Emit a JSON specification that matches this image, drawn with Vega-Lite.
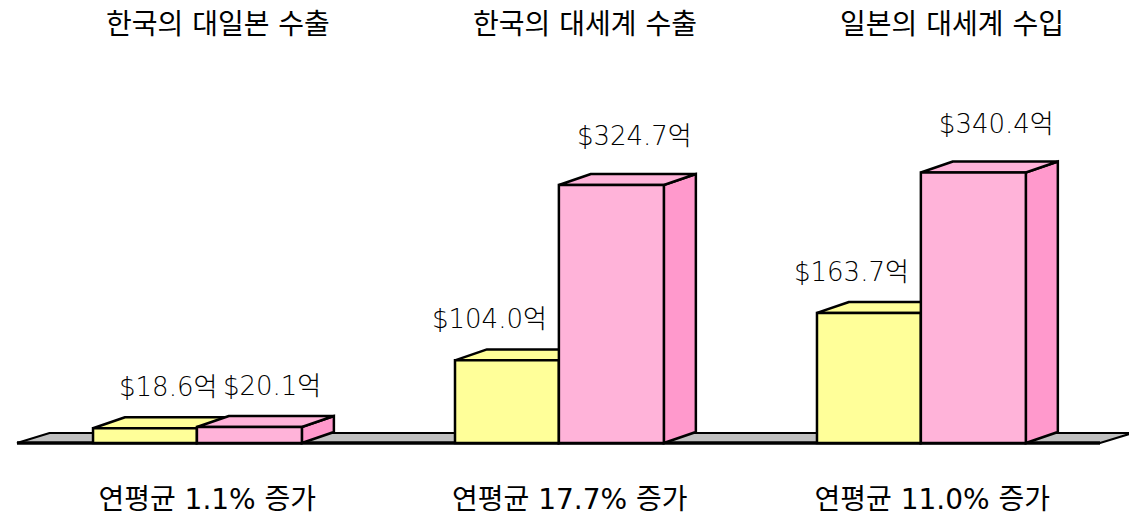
{
  "$schema": "https://vega.github.io/schema/vega-lite/v6.json",
  "width": 1129,
  "height": 425,
  "autosize": {"type": "none"},
  "padding": {"left": 0, "right": 0, "top": 50, "bottom": 45},
  "background": "white",
  "config": {"view": {"stroke": null}},
  "datasets": {
    "bars": [
      {"구분": "한국의 대일본 수출", "g": 0, "series": "시작", "value": 18.6},
      {"구분": "한국의 대일본 수출", "g": 0, "series": "종료", "value": 20.1},
      {"구분": "한국의 대세계 수출", "g": 1, "series": "시작", "value": 104.0},
      {"구분": "한국의 대세계 수출", "g": 1, "series": "종료", "value": 324.7},
      {"구분": "일본의 대세계 수입", "g": 2, "series": "시작", "value": 163.7},
      {"구분": "일본의 대세계 수입", "g": 2, "series": "종료", "value": 340.4}
    ],
    "groups": [
      {"title": "한국의 대일본 수출", "growth": "연평균 1.1% 증가"},
      {"title": "한국의 대세계 수출", "growth": "연평균 17.7% 증가"},
      {"title": "일본의 대세계 수입", "growth": "연평균 11.0% 증가"}
    ],
    "floor": [{"edge": "front"}, {"edge": "back"}]
  },
  "resolve": {"scale": {"x": "independent", "color": "independent"}, "axis": {"x": "independent"}},
  "layer": [
    {
      "data": {"name": "floor"},
      "transform": [
        {"calculate": "datum.edge == 'front' ? 0 : 12.6", "as": "fy"},
        {"calculate": "datum.edge == 'front' ? 0 : 0.09", "as": "fx"},
        {"calculate": "datum.edge == 'front' ? 2.992 : 3.082", "as": "fx2"}
      ],
      "mark": {"type": "area", "orient": "horizontal", "fill": "#c0c0c0", "stroke": "black", "strokeWidth": 2},
      "encoding": {
        "y": {"field": "fy", "type": "quantitative", "scale": {"domain": [-40.3, 494.6], "nice": false, "zero": false}, "axis": null},
        "x": {"field": "fx", "type": "quantitative", "stack": null, "scale": {"domain": [-0.047, 3.072], "nice": false, "zero": false}, "axis": null},
        "x2": {"field": "fx2"}
      }
    },
    {
      "data": {"name": "floor"},
      "transform": [
        {"filter": "datum.edge == 'front'"},
        {"calculate": "0", "as": "fy"},
        {"calculate": "0", "as": "fx"},
        {"calculate": "2.992", "as": "fx2"}
      ],
      "mark": {"type": "rule", "stroke": "black", "strokeWidth": 3.5},
      "encoding": {
        "y": {"field": "fy", "type": "quantitative", "scale": {"domain": [-40.3, 494.6], "nice": false, "zero": false}, "axis": null},
        "x": {"field": "fx", "type": "quantitative", "scale": {"domain": [-0.047, 3.072], "nice": false, "zero": false}, "axis": null},
        "x2": {"field": "fx2"}
      }
    },
    {
      "data": {"name": "bars"},
      "transform": [
        {"calculate": "datum.g + (datum.series == '시작' ? 0.21 : 0.497)", "as": "x0"},
        {"calculate": "datum.g + (datum.series == '시작' ? 0.497 : 0.787)", "as": "x1"},
        {"calculate": "[0, 1]", "as": "k"},
        {"flatten": ["k"]},
        {"calculate": "datum.x1 + datum.k * 0.0884", "as": "sx"},
        {"calculate": "datum.k * 13.8", "as": "sy"},
        {"calculate": "datum.value + datum.k * 13.8", "as": "sy2"}
      ],
      "mark": {"type": "area", "orient": "vertical", "stroke": "black", "strokeWidth": 2.5},
      "encoding": {
        "x": {"field": "sx", "type": "quantitative", "scale": {"domain": [-0.047, 3.072], "nice": false, "zero": false}, "axis": null},
        "y": {"field": "sy", "type": "quantitative", "stack": null, "scale": {"domain": [-40.3, 494.6], "nice": false, "zero": false}, "axis": null},
        "y2": {"field": "sy2"},
        "color": {"field": "series", "type": "nominal", "scale": {"domain": ["시작", "종료"], "range": ["#e8e880", "#ff99cc"]}, "legend": null},
        "detail": {"field": "g", "type": "nominal"}
      }
    },
    {
      "data": {"name": "bars"},
      "transform": [
        {"calculate": "datum.g + (datum.series == '시작' ? 0.21 : 0.497)", "as": "x0"},
        {"calculate": "datum.g + (datum.series == '시작' ? 0.497 : 0.787)", "as": "x1"},
        {"calculate": "[0, 1]", "as": "k"},
        {"flatten": ["k"]},
        {"calculate": "datum.x0 + datum.k * 0.0884", "as": "tx0"},
        {"calculate": "datum.x1 + datum.k * 0.0884", "as": "tx1"},
        {"calculate": "datum.value + datum.k * 13.8", "as": "ty"}
      ],
      "mark": {"type": "area", "orient": "horizontal", "stroke": "black", "strokeWidth": 2.5},
      "encoding": {
        "y": {"field": "ty", "type": "quantitative", "scale": {"domain": [-40.3, 494.6], "nice": false, "zero": false}, "axis": null},
        "x": {"field": "tx0", "type": "quantitative", "stack": null, "scale": {"domain": [-0.047, 3.072], "nice": false, "zero": false}, "axis": null},
        "x2": {"field": "tx1"},
        "color": {"field": "series", "type": "nominal", "scale": {"domain": ["시작", "종료"], "range": ["#ffff99", "#ffb3d9"]}, "legend": null},
        "detail": {"field": "g", "type": "nominal"}
      }
    },
    {
      "data": {"name": "bars"},
      "transform": [
        {"calculate": "datum.g + (datum.series == '시작' ? 0.21 : 0.497)", "as": "x0"},
        {"calculate": "datum.g + (datum.series == '시작' ? 0.497 : 0.787)", "as": "x1"}
      ],
      "mark": {"type": "rect", "stroke": "black", "strokeWidth": 2.5},
      "encoding": {
        "x": {"field": "x0", "type": "quantitative", "scale": {"domain": [-0.047, 3.072], "nice": false, "zero": false}, "axis": null},
        "x2": {"field": "x1"},
        "y": {"field": "value", "type": "quantitative", "stack": null, "scale": {"domain": [-40.3, 494.6], "nice": false, "zero": false}, "axis": null},
        "y2": {"datum": 0},
        "color": {"field": "series", "type": "nominal", "scale": {"domain": ["시작", "종료"], "range": ["#ffff99", "#ffb3d9"]}, "legend": null}
      }
    },
    {
      "data": {"name": "bars"},
      "transform": [
        {"filter": "datum.g == 0"},
        {"calculate": "datum.g + (datum.series == '시작' ? 0.21 : 0.497)", "as": "x0"},
        {"calculate": "'$' + format(datum.value, '.1f') + '억'", "as": "label"}
      ],
      "mark": {"type": "text", "align": "left", "baseline": "middle", "dx": 26, "dy": -40, "font": "DejaVu Sans, Noto Sans CJK KR", "fontSize": 26, "fontWeight": 200, "fill": "black"},
      "encoding": {
        "x": {"field": "x0", "type": "quantitative", "scale": {"domain": [-0.047, 3.072], "nice": false, "zero": false}, "axis": null},
        "y": {"field": "value", "type": "quantitative", "scale": {"domain": [-40.3, 494.6], "nice": false, "zero": false}, "axis": null},
        "text": {"field": "label"}
      }
    },
    {
      "data": {"name": "bars"},
      "transform": [
        {"filter": "datum.g > 0 && datum.series == '종료'"},
        {"calculate": "datum.g + 0.497", "as": "x0"},
        {"calculate": "'$' + format(datum.value, '.1f') + '억'", "as": "label"}
      ],
      "mark": {"type": "text", "align": "left", "baseline": "middle", "dx": 18, "dy": -48, "font": "DejaVu Sans, Noto Sans CJK KR", "fontSize": 26, "fontWeight": 200, "fill": "black"},
      "encoding": {
        "x": {"field": "x0", "type": "quantitative", "scale": {"domain": [-0.047, 3.072], "nice": false, "zero": false}, "axis": null},
        "y": {"field": "value", "type": "quantitative", "scale": {"domain": [-40.3, 494.6], "nice": false, "zero": false}, "axis": null},
        "text": {"field": "label"}
      }
    },
    {
      "data": {"name": "bars"},
      "transform": [
        {"filter": "datum.g > 0 && datum.series == '시작'"},
        {"calculate": "datum.g + 0.497", "as": "x1"},
        {"calculate": "'$' + format(datum.value, '.1f') + '억'", "as": "label"}
      ],
      "mark": {"type": "text", "align": "right", "baseline": "middle", "dx": -12, "dy": -40, "font": "DejaVu Sans, Noto Sans CJK KR", "fontSize": 26, "fontWeight": 200, "fill": "black"},
      "encoding": {
        "x": {"field": "x1", "type": "quantitative", "scale": {"domain": [-0.047, 3.072], "nice": false, "zero": false}, "axis": null},
        "y": {"field": "value", "type": "quantitative", "scale": {"domain": [-40.3, 494.6], "nice": false, "zero": false}, "axis": null},
        "text": {"field": "label"}
      }
    },
    {
      "data": {"name": "groups"},
      "mark": {"type": "point", "opacity": 0},
      "encoding": {
        "x": {
          "field": "title", "type": "nominal", "sort": null,
          "scale": {"type": "band", "paddingInner": 0.2, "paddingOuter": 0.138, "align": 0.702},
          "axis": {"orient": "top", "title": null, "domain": false, "ticks": false, "labelAngle": 0, "labelLimit": 0, "labelOverlap": false, "labelFont": "DejaVu Sans, Noto Sans CJK KR", "labelFontSize": 28, "labelFontWeight": "normal", "labelColor": "black", "labelPadding": 25, "labelBaseline": "middle"}
        }
      }
    },
    {
      "data": {"name": "groups"},
      "mark": {"type": "point", "opacity": 0},
      "encoding": {
        "x": {
          "field": "growth", "type": "nominal", "sort": null,
          "scale": {"type": "band", "paddingInner": 0, "paddingOuter": 0.0572, "align": 0.627},
          "axis": {"orient": "bottom", "title": null, "domain": false, "ticks": false, "labelAngle": 0, "labelLimit": 0, "labelOverlap": false, "labelFont": "DejaVu Sans, Noto Sans CJK KR", "labelFontSize": 28, "labelFontWeight": "normal", "labelColor": "black", "labelPadding": 25, "labelBaseline": "middle"}
        }
      }
    }
  ]
}
